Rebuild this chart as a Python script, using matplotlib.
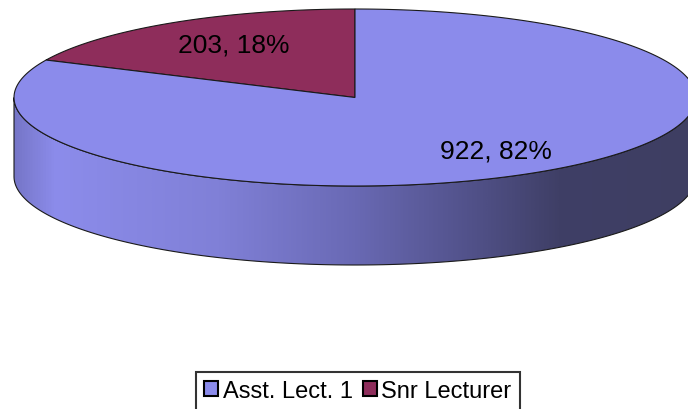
import matplotlib
matplotlib.use("Agg")
import matplotlib.pyplot as plt
import numpy as np
from matplotlib.patches import Polygon, Patch
from matplotlib.colors import LinearSegmentedColormap

plt.rcParams['font.family'] = ['Liberation Sans', 'DejaVu Sans']

# data
labels = ['Asst. Lect. 1', 'Snr Lecturer']
counts = [922, 203]
top_colors = ['#8B8BEB', '#8E2D5B']

# pie geometry (pixels)
cx, cy = 355, 98.5
rx, ry = 341, 88.5
depth = 79
start = 90.0  # degrees, slices go counter-clockwise from 12 o'clock

fig = plt.figure(figsize=(6.88, 4.10), dpi=100)
ax = fig.add_axes([0, 0, 1, 1])
ax.set_xlim(0, 688)
ax.set_ylim(410, 0)
ax.axis('off')


def ell(theta_deg, r=1.0):
    t = np.radians(theta_deg)
    return cx + rx * r * np.cos(t), cy - ry * r * np.sin(t)


# front side (visible part of the rim: 180..360 deg)
th = np.linspace(180, 360, 200)
xs, ys = ell(th)
side = np.column_stack([np.r_[xs, xs[::-1]], np.r_[ys, ys[::-1] + depth]])
side_poly = Polygon(side, closed=True, facecolor='none', edgecolor='#1a1a1a',
                    lw=0.8, zorder=3)
ax.add_patch(side_poly)

stops = [(0.0, (118/255, 118/255, 200/255)),
         (0.06, (140/255, 140/255, 235/255)),
         (0.30, (128/255, 128/255, 215/255)),
         (0.50, (105/255, 105/255, 180/255)),
         (0.68, (80/255, 80/255, 135/255)),
         (0.80, (63/255, 63/255, 102/255)),
         (1.0, (62/255, 62/255, 98/255))]
cmap = LinearSegmentedColormap.from_list('rim', stops)
grad = np.linspace(0, 1, 512).reshape(1, -1)
im = ax.imshow(grad, cmap=cmap, aspect='auto',
               extent=[cx - rx, cx + rx, cy + depth + ry + 2, cy - 2], zorder=2)
im.set_clip_path(side_poly)

# top face slices
total = sum(counts)
fracs = [c / total for c in counts]
# Snr Lecturer goes first counter-clockwise from the top, then Asst. Lect. 1
order = [1, 0]
a0 = start
label_r = {1: 0.66, 0: 0.77}
for i in order:
    a1 = a0 + 360 * fracs[i]
    t = np.linspace(a0, a1, 300)
    px, py = ell(t)
    pts = np.column_stack([np.r_[cx, px], np.r_[cy, py]])
    ax.add_patch(Polygon(pts, closed=True, facecolor=top_colors[i],
                         edgecolor='#1a1a1a', lw=0.8, zorder=4))
    mid = (a0 + a1) / 2
    lx, ly = ell(mid, label_r[i])
    ax.text(lx, ly - 4, f'{counts[i]}, {round(fracs[i] * 100)}%',
            ha='center', va='center', fontsize=19, color='black', zorder=6)
    a0 = a1

handles = [Patch(facecolor=c, edgecolor='black', lw=1.5) for c in top_colors]
leg = fig.legend(handles, labels, loc='upper left',
                 bbox_to_anchor=(196 / 688, 1 - 373 / 410), ncol=2,
                 fontsize=17, frameon=True, fancybox=False, shadow=False,
                 handlelength=0.6, handleheight=0.6, handletextpad=0.2,
                 columnspacing=0.4, borderpad=0.35, borderaxespad=0)
leg.get_frame().set_edgecolor('black')
leg.get_frame().set_linewidth(1.5)

fig.savefig('out.png', dpi=100)
